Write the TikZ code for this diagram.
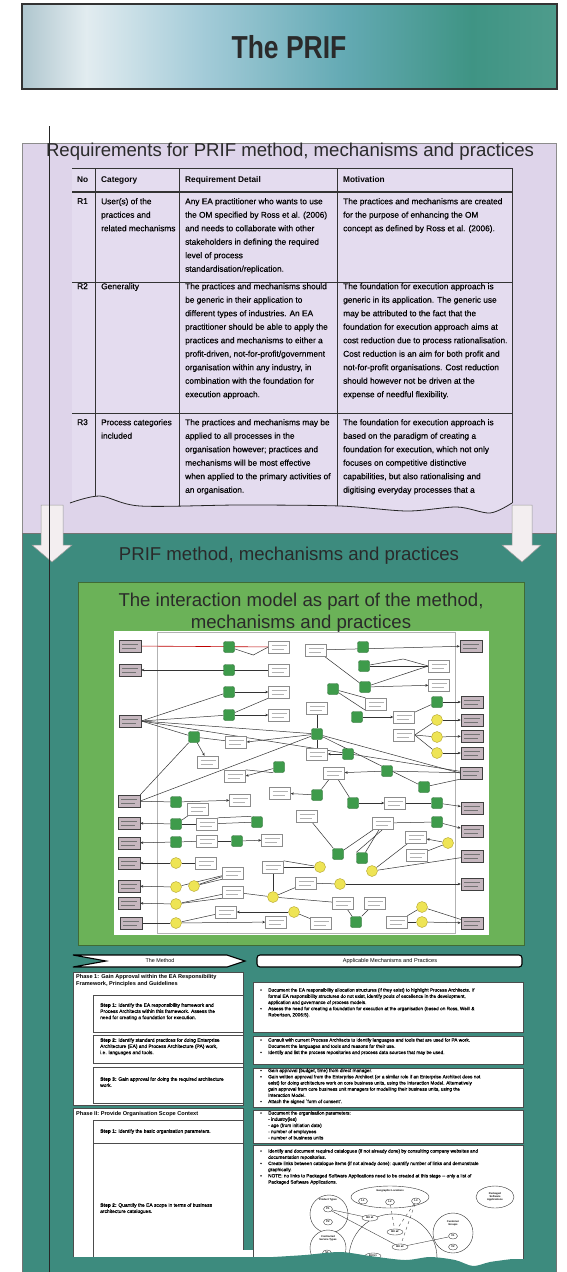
\documentclass[tikz,border=0pt]{standalone}
\usepackage{fontspec}
\setmainfont{Liberation Sans}
\newfontfamily\heavyfam{Liberation Sans}[FakeBold=0.45]
\newfontfamily\semifam{Liberation Sans}[FakeBold=0.25]
\usepackage{graphicx}
\usetikzlibrary{arrows.meta,shapes.geometric}
\definecolor{tA}{HTML}{AFC6CE}
\definecolor{tB}{HTML}{E2ECF0}
\definecolor{tC}{HTML}{A3CBD8}
\definecolor{tD}{HTML}{64AAB4}
\definecolor{tE}{HTML}{3F9484}
\definecolor{tF}{HTML}{4E9C8C}
\definecolor{lav}{HTML}{DED4EA}
\definecolor{lavcell}{HTML}{E4DCEF}
\definecolor{tealbg}{HTML}{3D8B7E}
\definecolor{grnbox}{HTML}{6BB258}
\definecolor{gnF}{HTML}{3E9B4B}
\definecolor{gnD}{HTML}{2A6B32}
\definecolor{ylF}{HTML}{EEE455}
\definecolor{ylD}{HTML}{B3A42C}
\definecolor{pinkg}{HTML}{C6B7BF}
\definecolor{arrowf}{HTML}{F3EEF0}
\definecolor{ink}{HTML}{2A2A2A}
\pgfdeclarehorizontalshading{titlesh}{100bp}{color(0bp)=(tA); color(25bp)=(tA); color(31bp)=(tB); color(42bp)=(tC); color(55bp)=(tD); color(67bp)=(tE); color(75bp)=(tF); color(100bp)=(tF)}
\pgfdeclarelayer{back}
\pgfdeclarelayer{edges}
\pgfsetlayers{back,edges,main}
\newcommand\mytabfont{\heavyfam\fontsize{8.3}{13.5}\selectfont}
\newcommand\myheadfont{\fontsize{8.3}{10}\selectfont\bfseries}
\newcommand\mybigfont{\fontsize{18.6}{22}\selectfont}
\newcommand\mysmallfont{\semifam\fontsize{4.7}{6.2}\selectfont}
\newcommand\mystepfont{\semifam\fontsize{4.9}{6.2}\selectfont}
\newcommand\myphasefont{\fontsize{5.6}{7.6}\selectfont\bfseries}
\newcommand\mytinyfont{\fontsize{2.6}{3}\selectfont\bfseries}
\newcommand\mybul{\makebox[8pt][l]{\textbullet}}
\newcommand\mycnt{\hspace*{8pt}}
\tikzset{
  pk/.style={draw=black!75, fill=pinkg, minimum width=22pt, minimum height=12pt, inner sep=0pt, line width=0.5pt,
    path picture={\draw[black!55, line width=0.7pt] ([xshift=3pt,yshift=2pt]path picture bounding box.west) -- ([xshift=-3pt,yshift=2pt]path picture bounding box.east);
      \draw[black!55, line width=0.7pt] ([xshift=3pt,yshift=-2pt]path picture bounding box.west) -- ([xshift=-5pt,yshift=-2pt]path picture bounding box.east);}},
  wb/.style={draw=black!45, fill=white, minimum width=21pt, minimum height=12pt, inner sep=0pt, line width=0.4pt,
    path picture={\draw[black!30, line width=0.7pt] ([xshift=3pt,yshift=2pt]path picture bounding box.west) -- ([xshift=-3pt,yshift=2pt]path picture bounding box.east);
      \draw[black!30, line width=0.7pt] ([xshift=3pt,yshift=-2pt]path picture bounding box.west) -- ([xshift=-6pt,yshift=-2pt]path picture bounding box.east);}},
  gn/.style={draw=gnD, fill=gnF, minimum size=11pt, inner sep=0pt, rounded corners=2pt, line width=0.4pt},
  yl/.style={circle, draw=ylD, fill=ylF, minimum size=11pt, inner sep=0pt, line width=0.4pt},
  ed/.style={draw=black!80, line width=0.5pt},
  ea/.style={ed, -{Stealth[length=3pt,width=2.6pt]}},
  tabtxt/.style={anchor=north west, align=left, inner sep=0pt, font=\mytabfont, text=black},
  tabhd/.style={anchor=west, inner sep=0pt, font=\myheadfont, text=black},
  boxst/.style={draw=black!70, fill=white, line width=0.6pt},
  steptxt/.style={anchor=north west, align=left, inner sep=0pt, font=\mystepfont, text=black},
  rtxt/.style={anchor=north west, align=left, inner sep=0pt, font=\mysmallfont, text=black},
  mini/.style={ellipse, draw=black!80, line width=0.35pt, inner sep=0.3pt, minimum width=9pt, minimum height=6pt, font=\mytinyfont, fill=white},
  minic/.style={circle, draw=black!80, line width=0.4pt, inner sep=0pt},
  minil/.style={inner sep=0pt, align=center, font=\mytinyfont}
}
\begin{document}
\begin{tikzpicture}[x=1pt,y=-1pt]
\useasboundingbox (0,0) rectangle (566,1272);

\begin{pgfonlayer}{back}
\fill[white] (0,0) rectangle (566,1272);
% title
\shade[shading=titlesh] (22,4) rectangle (557,89);
\draw[black!80, line width=1.6pt] (22,4) rectangle (557,89);
% lavender panel
\fill[lav] (22,143) rectangle (556,533);
\draw[black!45, line width=0.6pt] (22,533) -- (22,143) -- (556,143) -- (556,533);
% teal panel
\fill[tealbg] (22,533) rectangle (556,1272);
\draw[black!55, line width=0.6pt] (22,1272) -- (22,533) -- (556,533) -- (556,1272);
\fill[grnbox] (78,582) rectangle (524,945);
\draw[black!40!grnbox, line width=0.6pt] (78,582) rectangle (524,945);
\fill[white] (114,631) rectangle (489,935);
\draw[black!30, line width=0.5pt] (157,632) rectangle (455,933);
\end{pgfonlayer}

\node[inner sep=0pt, text=ink] (title) at (289,47) {\scalebox{1}[1.2]{\fontsize{26.5}{30}\selectfont\bfseries The PRIF}};
\node[inner sep=0pt, font=\mybigfont, text=ink] (reqtitle) at (290,152) {Requirements for PRIF method, mechanisms and practices};

\begin{scope}
\clip (60,160) -- (520,160) -- (520,503) -- plot[smooth] coordinates {(512,503) (490,513) (457,507) (407,511) (340,506) (240,505) (140,506) (100,496) (70,503)} -- (60,503) -- cycle;
\fill[lavcell] (72,168) rectangle (512,520);
\draw[black!80, line width=0.8pt] (72,168) -- (512,168);
\draw[black!80, line width=1.1pt] (72,192) -- (512,192);
\draw[black!80, line width=0.8pt] (72,282) -- (512,282);
\draw[black!80, line width=0.8pt] (72,413) -- (512,413);
\foreach \cx in {95,179,337,512} \draw[black!80, line width=0.8pt] (\cx,168) -- (\cx,520);
\end{scope}
\draw[black!85, line width=0.8pt] plot[smooth] coordinates {(70,503) (100,496) (140,506) (240,505) (340,506) (407,511) (457,507) (490,513) (512,503)};

\node[tabhd] (hno) at (77,180) {No};
\node[tabhd] (hcat) at (101,180) {Category};
\node[tabhd] (hdet) at (185,180) {Requirement Detail};
\node[tabhd] (hmot) at (343,180) {Motivation};

\node[tabtxt] (r1no) at (77,198) {R1};
\node[tabtxt] (r1cat) at (101,198) {User(s) of the\\practices and\\related mechanisms};
\node[tabtxt] (r1det) at (185,198) {Any EA practitioner who wants to use\\the OM specified by Ross et al. (2006)\\and needs to collaborate with other\\stakeholders in defining the required\\level of process\\standardisation/replication.};
\node[tabtxt] (r1mot) at (343,198) {The practices and mechanisms are created\\for the purpose of enhancing the OM\\concept as defined by Ross et al. (2006).};

\node[tabtxt] (r2no) at (77,283) {R2};
\node[tabtxt] (r2cat) at (101,283) {Generality};
\node[tabtxt] (r2det) at (185,283) {The practices and mechanisms should\\be generic in their application to\\different types of industries. An EA\\practitioner should be able to apply the\\practices and mechanisms to either a\\profit-driven, not-for-profit/government\\organisation within any industry, in\\combination with the foundation for\\execution approach.};
\node[tabtxt] (r2mot) at (343,283) {The foundation for execution approach is\\generic in its application. The generic use\\may be attributed to the fact that the\\foundation for execution approach aims at\\cost reduction due to process rationalisation.\\Cost reduction is an aim for both profit and\\not-for-profit organisations. Cost reduction\\should however not be driven at the\\expense of needful flexibility.};

\node[tabtxt] (r3no) at (77,419) {R3};
\node[tabtxt] (r3cat) at (101,419) {Process categories\\included};
\node[tabtxt] (r3det) at (185,419) {The practices and mechanisms may be\\applied to all processes in the\\organisation however; practices and\\mechanisms will be most effective\\when applied to the primary activities of\\an organisation.};
\node[tabtxt] (r3mot) at (343,419) {The foundation for execution approach is\\based on the paradigm of creating a\\foundation for execution, which not only\\focuses on competitive distinctive\\capabilities, but also rationalising and\\digitising everyday processes that a};

% down arrows
\draw[black!40, fill=arrowf, line width=0.5pt] (41,505) -- (63,505) -- (63,545) -- (72,545) -- (52,562) -- (32,545) -- (41,545) -- cycle;
\draw[black!40, fill=arrowf, line width=0.5pt] (512,505) -- (532,505) -- (532,545) -- (541,545) -- (522,562) -- (502,545) -- (512,545) -- cycle;

\node[inner sep=0pt, font=\mybigfont, text=ink] (prif) at (289,556) {PRIF method, mechanisms and practices};
\node[inner sep=0pt, font=\mybigfont, text=ink, align=center] (imtitle) at (301,613) {The interaction model as part of the method,\\mechanisms and practices};

% ---------- interaction model nodes ----------
\foreach \n/\px/\py in {pkL1/130/646, pkL2/130/670, pkL3/130/721, pkL4/129/801, pkL5/129/823, pkL6/129/843, pkL7/129/863, pkL8/129/886, pkL9/129/903, pkL10/131/923,
  pkR1/471/646, pkR2/472/702, pkR3/472/720, pkR4/472/736, pkR5/472/753, pkR6/471/773, pkR7/472/808, pkR8/472/831, pkR9/472/856, pkR10/472/884, pkR11/472/923}
  \node[pk] (\n) at (\px,\py) {};
\foreach \n/\px/\py in {w1/279/647, w2/279/670, w3/279/692, w4/279/715, w5/236/742, w6/208/762, w7/235/776, w8/316/650, w9/317/708, w10/317/754,
  w11/439/666, w12/439/685, w13/376/704, w14/404/717, w15/404/735, w16/334/773, w17/240/800, w18/198/809, w19/207/824, w20/207/841,
  w21/272/840, w22/280/793, w23/395/803, w24/307/816, w25/383/823, w26/416/837, w27/417/855, w28/206/863, w29/233/873, w30/273/867,
  w31/233/892, w32/306/883, w33/343/903, w34/375/903, w35/226/912, w36/276/922, w37/321/923, w38/397/922}
  \node[wb] (\n) at (\px,\py) {};
\foreach \n/\px/\py in {g1/229/647, g2/229/670, g3/229/692, g4/229/715, g5/194/737, g6/279/767, g7/317/734, g8/363/647, g9/364/666, g10/365/687,
  g11/333/689, g12/357/717, g13/437/702, g14/348/754, g15/387/771, g16/176/802, g17/176/824, g18/176/842, g19/257/822, g20/237/841,
  g21/317/795, g22/353/803, g23/437/803, g24/424/787, g25/437/822, g26/338/854, g27/362/858, g28/356/922}
  \node[gn] (\n) at (\px,\py) {};
\foreach \n/\px/\py in {y1/437/720, y2/437/737, y3/437/753, y4/176/863, y5/176/887, y6/194/886, y7/176/904, y8/176/923, y9/273/897, y10/320/867,
  y11/340/884, y12/294/912, y13/372/871, y14/448/843, y15/422/907, y16/422/922}
  \node[yl] (\n) at (\px,\py) {};

\begin{pgfonlayer}{edges}
\draw[red!75!black, line width=0.6pt] (pkL1) -- (w1);
\draw[ed] (g1) -- ([xshift=-15pt,yshift=-8pt]w1.west) -- (w1.west);
\draw[ea] (w2) -- (pkL2);
\foreach \t in {g3,g4,g5,g7,pkR6} \draw[ed] (pkL3.east) -- (\t);
\draw[ea] (g3) -- (w3);
\draw[ea] (g4) -- (w4);
\draw[ed] (g4) -- (w3.south west);
\draw[ed] (g5) -- (w5);
\draw[ea] (g7) -- (w5.east);
\draw[ea] (g5) -- (w6);
\draw[ed] (g5) -- (pkL4.north east);
\draw[ed] (pkL4.east) -- (g7);
\draw[ea] (g6) -- (w7.east);
\draw[ed] (g6.south west) -- (w7.north east);
\draw[ea] (w8) -- (pkR1);
\draw[ed] (w8) -- (g10);
\draw[ed] (g9) -- (w11.west);
\draw[ed] (g9) -- ([xshift=-25pt,yshift=7pt]w11.west) -- (w11.west);
\draw[ed] (g10) -- (w11.west);
\draw[ea] (g10) -- (w12);
\draw[ed] (g11) -- (w13.north west);
\draw[ed] (g11) -- (w13.south west);
\draw[ea] (g12) -- (w14);
\draw[ed] (w14) -- (g13);
\foreach \t in {y1,y2,y3} \draw[ed] (w15.east) -- (\t);
\draw[ea] (g13) -- (pkR2);
\draw[ea] (y1) -- (pkR3);
\draw[ea] (y2) -- (pkR4);
\draw[ea] (y3) -- (pkR5);
\draw[ed] (w9) -- (g7);
\draw[ed] (g7) -- (w10);
\draw[ea] (g14) -- (w10);
\draw[ed] (g7) -- (pkR6.west);
\draw[ed] (g7) -- (g24);
\draw[ea] (g15) -- (w16);
\draw[ed] (g15) -- (pkR6);
\draw[ed] (g24) -- (pkR6.south west);
\draw[ed] (pkL4) -- (g16);
\draw[ea] (g16) -- (w17);
\draw[ed] (w18) -- (g17);
\draw[ea] (g17) -- (pkL5);
\draw[ed] (w19) -- (g17);
\draw[ed] (w19) -- (g19);
\draw[ed] (w19.north east) -- (g19.north west);
\draw[ea] (g18) -- (pkL6);
\draw[ed] (w20) -- (g18);
\draw[ed] (w20) -- (g20);
\draw[ea] (g20) -- (w21);
\draw[ea] (y4) -- (pkL7);
\draw[ed] (w28) -- (y4);
\draw[ea] (y5) -- (pkL8);
\draw[ed] (y5) -- (w29);
\draw[ed] (y6) -- (w29);
\draw[ed] (y6) -- (w29.south west);
\draw[ea] (y7) -- (pkL9);
\draw[ed] (y7) -- (w31);
\draw[ed] (y7) -- (w31.south west);
\draw[ed] (pkL10) -- (y8);
\draw[ea] (y8) -- (w36);
\draw[ed] (y8) -- (w35);
\draw[ea] (y12) -- (w35);
\draw[ed] (y12) -- (w37);
\draw[ed] (w30) -- (y9);
\draw[ed] (y10) -- (w30.east);
\draw[ed] (y10) -- (w30.north east);
\draw[ed] (y9) -- (w31);
\draw[ed] (y9) -- (w32);
\draw[ed] (y9) -- (w33);
\draw[ed] (w32) -- (y11);
\draw[ea] (y11) -- (pkR10);
\draw[ed] (w33) -- (g28);
\draw[ed] (g28) -- (w34);
\draw[ea] (g21) -- (w22);
\draw[ed] (g21) -- (w16);
\draw[ed] (w16) -- (g22);
\draw[ea] (g22) -- (w23);
\draw[ed] (w23) -- (g23);
\draw[ea] (g23) -- (pkR7);
\draw[ed] (w24) -- (g26);
\draw[ed] (g26) -- (w25);
\draw[ed] (g27) -- (w25);
\draw[ed] (g27.north west) -- (w25.south);
\draw[ed] (w25) -- (g25);
\draw[ea] (g25) -- (pkR8);
\draw[ea] (y14) -- (w26);
\draw[ed] (y14) -- (w27);
\draw[ed] (y13) -- (w26);
\draw[ed] (y13) -- (pkR9);
\draw[ed] (w38) -- (y16);
\draw[ed] (y15) -- (w38);
\draw[ed] (y15) -- (pkR11);
\draw[ea] (y16) -- (pkR11);
\end{pgfonlayer}

% ---------- method section ----------
\draw[black, fill=white, line width=1.1pt] (73,955) -- (227,955) -- (245,961) -- (227,967) -- (73,967) -- (106,961) -- cycle;
\node[inner sep=0pt, font=\fontsize{5.4}{6}\selectfont] (method) at (160,961) {The Method};
\draw[black, fill=white, line width=1.1pt, rounded corners=3pt] (257,955) rectangle (522,967);
\node[inner sep=0pt, font=\fontsize{5.6}{6}\selectfont] (applic) at (390,961) {Applicable Mechanisms and Practices};

\draw[boxst] (73,972) rectangle (243,1105);
\draw[boxst] (93,995) rectangle (243,1032);
\draw[boxst] (93,1035) rectangle (243,1063);
\draw[boxst] (93,1067) rectangle (243,1103);
\draw[boxst] (73,1108) rectangle (243,1262);
\draw[boxst] (93,1120) rectangle (243,1143);
\draw[boxst] (93,1143) rectangle (243,1262);

\draw[boxst] (253,982) rectangle (523,1032);
\draw[boxst] (253,1036) rectangle (523,1064);
\draw[boxst] (253,1068) rectangle (523,1107);
\draw[boxst] (253,1110) rectangle (523,1143);
\draw[boxst] (253,1145) rectangle (523,1268);

\node[anchor=north west, align=left, inner sep=0pt, font=\myphasefont] (ph1) at (76,974) {Phase 1: Gain Approval within the EA Responsibility\\Framework, Principles and Guidelines};
\node[steptxt] (s11) at (100,1003) {\textbf{Step 1:} Identify the EA responsibility framework and\\Process Architects within this framework. Assess the\\need for creating a foundation for execution.};
\node[steptxt] (s12) at (100,1038) {\textbf{Step 2:} Identify standard practices for doing Enterprise\\Architecture (EA) and Process Architecture (PA) work,\\i.e. languages and tools.};
\node[steptxt] (s13) at (100,1077) {\textbf{Step 3:} Gain approval for doing the required architecture\\work.};
\node[anchor=north west, align=left, inner sep=0pt, font=\myphasefont] (ph2) at (76,1111) {Phase II: Provide Organisation Scope Context};
\node[steptxt] (s21) at (100,1129) {\textbf{Step 1:} Identify the basic organisation parameters.};
\node[steptxt] (s22) at (100,1203) {\textbf{Step 2:} Quantify the EA scope in terms of business\\architecture catalogues.};

\node[rtxt] (m1) at (260,988) {\mybul Document the EA responsibility allocation structures (if they exist) to highlight Process Architects. If\\\mycnt formal EA responsibility structures do not exist, identify pools of excellence in the development,\\\mycnt application and governance of process models.\\\mybul Assess the need for creating a foundation for execution at the organisation (based on Ross, Weill \&\\\mycnt Robertson, 2006:5).};
\node[rtxt] (m2) at (260,1038) {\mybul Consult with current Process Architects to identify languages and tools that are used for PA work.\\\mycnt Document the languages and tools and reasons for their use.\\\mybul Identify and list the process repositories and process data sources that may be used.};
\node[rtxt] (m3) at (260,1068.5) {\mybul Gain approval (budget, time) from direct manager.\\\mybul Gain written approval from the Enterprise Architect (or a similar role if an Enterprise Architect does not\\\mycnt exist) for doing architecture work on core business units, using the Interaction Model. Alternatively\\\mycnt gain approval from core business unit managers for modelling their business units, using the\\\mycnt Interaction Model.\\\mybul Attach the signed `form of consent'.};
\node[rtxt] (m4) at (260,1111) {\mybul Document the organisation parameters:\\\mycnt - industry(ies)\\\mycnt - age (from initiation date)\\\mycnt - number of employees\\\mycnt - number of business units};
\node[rtxt] (m5) at (260,1149) {\mybul Identify and document required catalogues (if not already done) by consulting company websites and\\\mycnt documentation repositories.\\\mybul Create links between catalogue items (if not already done): quantify number of links and demonstrate\\\mycnt graphically.\\\mybul NOTE: no links to Packaged Software Applications need to be created at this stage -- only a list of\\\mycnt Packaged Software Applications.};

% mini catalogue diagram
\node[minic, minimum size=88pt] (buc) at (393,1258) {};
\node[minic, minimum size=38pt, fill=white] (ptc) at (329,1214) {};
\node[minil] (ptl) at (328,1200) {Product Types};
\node[mini] (p1) at (328,1209) {P1};
\node[mini] (p2) at (328,1222) {P2};
\node[ellipse, draw=black!80, line width=0.4pt, minimum width=78pt, minimum height=22pt, inner sep=0pt, fill=white] (geo) at (390,1197) {};
\node[minil] (geol) at (390,1191) {Geographic Locations};
\node[mini] (l1) at (363,1201) {L1};
\node[mini] (l2) at (390,1202) {L2};
\node[mini] (l3) at (416,1201) {L3};
\node[ellipse, draw=black!80, line width=0.4pt, minimum width=38pt, minimum height=22pt, inner sep=0pt, align=center, font=\mytinyfont] (psa) at (495,1197) {Packaged\\Software\\Applications};
\node[minic, minimum size=40pt, fill=white] (cgc) at (453,1233) {};
\node[minil] (cgl) at (453,1223) {Customer\\Groups};
\node[mini] (c1) at (453,1236) {C1};
\node[mini] (c2) at (453,1247) {C2};
\node[minic, minimum size=36pt, fill=white] (stc) at (328,1248) {};
\node[minil] (stl) at (328,1238) {Contracted\\Service Types};
\node[mini] (s1) at (327,1253) {S1};
\node[mini, minimum width=16pt] (bua1) at (370,1218) {BU a1};
\node[mini, minimum width=16pt] (bua2) at (395,1232) {BU a2};
\node[mini, minimum width=16pt] (bua3) at (400,1247) {BU a3};
\node[mini, minimum width=16pt] (bub1) at (373,1256) {BU b1};
\draw[black!80, line width=0.35pt] (p1) -- (bua3);
\draw[black!80, line width=0.35pt] (p1) -- (bua1);
\draw[black!80, line width=0.35pt, dashed] (l2) -- (bua2);
\draw[black!80, line width=0.35pt, dashed] (l3) -- (bua3);
\draw[black!80, line width=0.35pt, dashed] (l3) -- (bua2);
\draw[black!80, line width=0.35pt] (c1) -- (bua3);
\draw[black!80, line width=0.35pt] (s1) -- (bub1);

% torn bottom edge
\fill[tealbg] (60,1272) -- (60,1257) -- (73,1257) -- (273,1257) -- plot[smooth] coordinates {(273,1257) (305,1255) (340,1252) (370,1256) (405,1260) (430,1257) (455,1260) (473,1266) (490,1262) (512,1259)} -- (530,1259) -- (530,1272) -- cycle;
\fill[white] (243,1250) rectangle (253,1257);

% vertical guide line
\draw[black!85, line width=0.6pt] (49,126) -- (49,1272);
\end{tikzpicture}
\end{document}
